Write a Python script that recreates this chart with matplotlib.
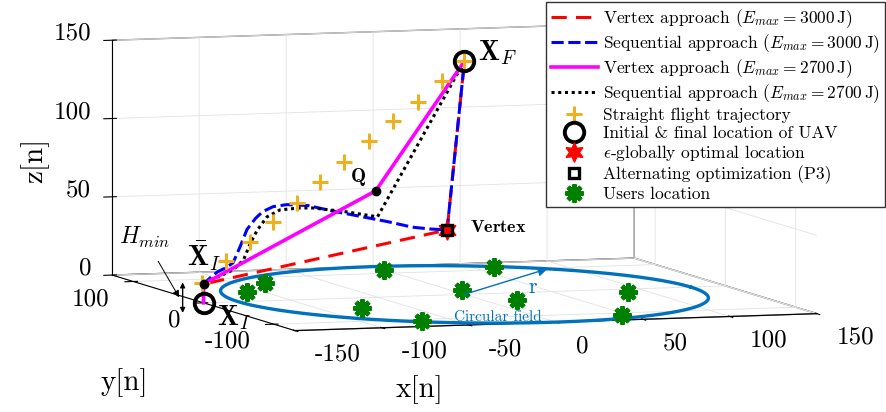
import numpy as np
import matplotlib.pyplot as plt
from mpl_toolkits.mplot3d import proj3d

plt.rcParams['font.family'] = 'cmr10'
plt.rcParams['mathtext.fontset'] = 'cm'
plt.rcParams['axes.unicode_minus'] = False
plt.rcParams['grid.color'] = '#e2e2e2'
plt.rcParams['grid.linewidth'] = 0.6

# ---- data (metres) ----
x_ticks = [-150, -100, -50, 0, 50, 100, 150]
x_ticklabels = ['-150', '-100', '-50', '0', '50', '100', '150']
y_ticks = [-100, 0, 100]
y_ticklabels = ['-100', '0', '100']
z_ticks = [0, 50, 100, 150]
z_ticklabels = ['0', '50', '100', '150']

field_radius = 130
radius_tip = [87, 97]

users_x = [-109, -84, 0, -76, 6, 62, -68, 18, 89, 47]
users_y = [40, 76, 114, -43, 19, 112, -108, -30, -12, -108]

H_min = 12
X_I = [-150, 0, 0]
X_F = [0, 0, 149]
vertex = [-10, 0, 41.5]
Q = [-51, 0, 68]

# vertex approach, E_max = 3000 J
vtx3000_x = [-150, -150, -10, 0]
vtx3000_z = [0, 12, 41.5, 149]
# sequential approach, E_max = 3000 J
seq3000_x = [-150, -150, -146, -142, -137, -133, -129, -125, -120, -116, -110,
             -102, -90, -76, -60, -44, -30, -20, -10, 0]
seq3000_z = [0, 12, 16, 19.5, 22, 25, 35, 46, 53, 57, 60,
             61, 60, 56, 52, 48, 44, 42.5, 41.5, 149]
# vertex approach, E_max = 2700 J
vtx2700_x = [-150, -150, -51, 0]
vtx2700_z = [0, 12, 68, 149]
# sequential approach, E_max = 2700 J
seq2700_x = [-150, -150, -145, -139, -133, -127, -123, -119, -113.5, -106,
             -94.5, -87, -67.5, -50, 0]
seq2700_z = [0, 12, 15, 17.5, 20.4, 26.6, 37.3, 45.5, 53.6, 57.8,
             58.6, 58.3, 55.1, 51.3, 149]
# straight flight trajectory
straight_x = [-151, -137, -123, -110, -96, -83, -69, -55, -41, -27, -13, 0]
straight_z = [13, 26, 38, 50, 62, 75, 87, 100, 112, 124, 137, 149]

blue_field = '#0072bd'
orange = '#edb120'
green = '#008000'
tick_fs = 18

fig = plt.figure(figsize=(8.87, 4.12), dpi=100)
ax = fig.add_axes([0.0524, -0.444, 0.9177, 1.9757], projection='3d')
ax.set_proj_type('ortho')
ax.view_init(elev=5.7, azim=-108.1)
ax.set_box_aspect((549, 588, 236))
ax.set_xlim(-150, 150)
ax.set_ylim(-130, 130)
ax.set_zlim(0, 150)
ax.computed_zorder = False

for axis in (ax.xaxis, ax.yaxis, ax.zaxis):
    axis.set_pane_color((1, 1, 1, 1))
    axis.pane.set_edgecolor('0.45')
    axis.line.set_linewidth(0.8)

ax.set_xticks(x_ticks)
ax.set_yticks(y_ticks)
ax.set_zticks(z_ticks)
ax.set_xticklabels([])
ax.set_yticklabels([])
ax.set_zticklabels([])


def to2d(x, y, z):
    xs, ys, _ = proj3d.proj_transform(x, y, z, ax.get_proj())
    return xs, ys


def label3d(x, y, z, s, **kw):
    ax.annotate(s, xy=to2d(x, y, z), **kw)


# tick labels placed like MATLAB's
for v, s in zip(x_ticks, x_ticklabels):
    label3d(v, -158, -11.5, s, fontsize=tick_fs, ha='left', va='center')
for v, s in zip(y_ticks, y_ticklabels):
    label3d(-163.5, v, -10.8, s, fontsize=tick_fs, ha='right', va='center')
for v, s in zip(z_ticks, z_ticklabels):
    label3d(-150, 160, v, s, fontsize=tick_fs, ha='right', va='center')

# circular field on the ground
theta = np.linspace(0, 2 * np.pi, 240)
ax.plot(field_radius * np.cos(theta), field_radius * np.sin(theta), 0 * theta,
        color=blue_field, lw=2.4, zorder=1)

zero = lambda v: np.zeros(len(v))

ax.plot(vtx3000_x, zero(vtx3000_x), vtx3000_z, color='r', lw=2.2,
        ls=(0, (5, 3)), zorder=3, label=r'Vertex approach ($E_{max}=3000\,$J)')
ax.plot(seq3000_x, zero(seq3000_x), seq3000_z, color='b', lw=2.2,
        ls=(0, (4, 1.5)), zorder=4, label=r'Sequential approach ($E_{max}=3000\,$J)')
ax.plot(vtx2700_x, zero(vtx2700_x), vtx2700_z, color='magenta', lw=2.6,
        zorder=5, label=r'Vertex approach ($E_{max}=2700\,$J)')
ax.plot(seq2700_x, zero(seq2700_x), seq2700_z, color='k', lw=2.2,
        ls=(0, (1, 1.2)), zorder=4, label=r'Sequential approach ($E_{max}=2700\,$J)')
ax.plot(straight_x, zero(straight_x), straight_z, ls='none', marker='+',
        ms=11, mew=2.2, color=orange, zorder=6, label='Straight flight trajectory')
ax.plot([X_I[0], X_F[0]], [X_I[1], X_F[1]], [X_I[2], X_F[2]], ls='none',
        marker='o', ms=14, mew=2.8, mfc='none', mec='k', zorder=7,
        label='Initial & final location of UAV')
ax.plot([vertex[0]], [vertex[1]], [vertex[2]], ls='none', marker=(6, 1, 0),
        ms=14, color='r', zorder=7, label=r'$\epsilon$-globally optimal location')
ax.plot([vertex[0]], [vertex[1]], [vertex[2]], ls='none', marker='s',
        ms=7, mew=2.4, mfc='none', mec='k', zorder=8,
        label='Alternating optimization (P3)')
ax.plot(users_x, users_y, zero(users_x), ls='none', marker=(8, 2, 0), ms=13,
        mew=3.2, color=green, zorder=2, label='Users location')

# black dots at X_I bar and Q
ax.plot([X_I[0], Q[0]], [0, Q[1]], [H_min, Q[2]], ls='none', marker='o',
        ms=6, color='k', zorder=9)

# text labels
label3d(-61, 0, 77, r'$\mathbf{Q}$', fontsize=14.5, ha='center', va='center')
label3d(3, 0, 43, r'$\mathbf{Vertex}$', fontsize=13, ha='left', va='center')
label3d(8, 0, 154, r'$\mathbf{X}_F$', fontsize=20, ha='left', va='center')
label3d(-142, 0, -9.5, r'$\mathbf{X}_I$', fontsize=20, ha='left', va='center')
label3d(-150, 0, 29.5, r'$\bar{\mathbf{X}}_I$', fontsize=20, ha='center', va='center')
label3d(48, 22, 0, 'r', fontsize=16, color=blue_field, ha='center', va='center')
label3d(-21, -99, 0, 'Circular field', fontsize=11, color=blue_field,
        ha='center', va='center')

ax.annotate('', xy=to2d(radius_tip[0], radius_tip[1], 0), xytext=to2d(0, 0, 0),
            arrowprops=dict(arrowstyle='-|>', color=blue_field, lw=1.0,
                            mutation_scale=14, shrinkA=0, shrinkB=0))
ax.annotate(r'$H_{min}$', xy=to2d(-164, 0, 4), xytext=(-25, 43),
            textcoords='offset points', fontsize=17, ha='center', va='center',
            arrowprops=dict(arrowstyle='-|>', color='k', lw=0.7,
                            mutation_scale=10, shrinkA=7, shrinkB=0))
ax.annotate('', xy=to2d(-162, 0, -6), xytext=to2d(-162, 0, 13.5),
            arrowprops=dict(arrowstyle='<|-|>', color='k', lw=1.0,
                            mutation_scale=7, shrinkA=0, shrinkB=0))

# axis labels
fig.text(420 / 887, 1 - 390 / 412, 'x[n]', fontsize=21, ha='center', va='center')
fig.text(124 / 887, 1 - 383 / 412, 'y[n]', fontsize=21, ha='center', va='center')
fig.text(35 / 887, 1 - 160 / 412, 'z[n]', fontsize=21, ha='center', va='center',
         rotation=90)

fig.legend(loc='upper right', bbox_to_anchor=(1.0, 1.0), fontsize=12.5,
           fancybox=False, edgecolor='0.2', framealpha=1, handlelength=2.7,
           labelspacing=0.14, borderpad=0.3, handletextpad=0.3,
           borderaxespad=0.1)

fig.savefig('out.png', dpi=100)
